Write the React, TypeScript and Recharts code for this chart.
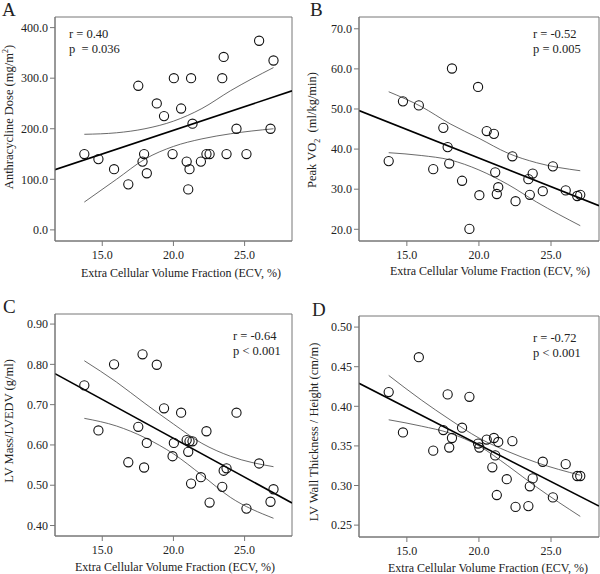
import React from "react";
import { ComposedChart, Scatter, Line, XAxis, YAxis, ReferenceArea } from "recharts";

// ECV (%) per patient, shared by the four panels
const ecv = [13.74, 14.73, 15.83, 16.83, 17.53, 17.83, 17.94, 18.13, 18.83, 19.34, 19.94, 20.03, 20.54, 20.93, 21.04, 21.13, 21.24, 21.34, 21.93, 22.32, 22.54, 23.43, 23.53, 23.73, 24.43, 25.13, 26.02, 26.82, 27.03];

// outcomes, same order as ecv (null = no value shown)
const dose = [150, 140, 120, 90, 285, 135, 150, 112, 250, 225, 150, 300, 240, 135, 80, 120, 300, 210, 135, 150, 150, 300, 342, 150, 200, 150, 374, 200, 335];
const vo2 = [37.0, 51.9, 50.9, 35.0, 45.3, 40.5, 36.4, 60.1, 32.1, 20.1, 55.5, 28.5, 44.5, null, 43.8, 34.2, 28.8, 30.5, null, 38.2, 27.0, 32.5, 28.6, 33.9, 29.5, 35.7, 29.7, 28.3, 28.6];
const massRatio = [0.748, 0.636, 0.8, 0.557, 0.645, 0.825, 0.544, 0.605, 0.799, 0.691, 0.572, 0.605, 0.68, 0.612, 0.583, 0.609, 0.504, 0.609, 0.52, 0.634, 0.457, 0.496, 0.536, 0.542, 0.68, 0.442, 0.554, 0.459, 0.49];
const wallRatio = [0.418, 0.367, 0.462, 0.344, 0.37, 0.415, 0.348, 0.36, 0.373, 0.412, 0.353, 0.348, 0.358, 0.323, 0.36, 0.338, 0.288, 0.355, 0.308, 0.356, 0.273, 0.274, 0.299, 0.309, 0.33, 0.285, 0.327, 0.312, 0.312];

// regression lines (end points at the frame edges)
const fitX = [11.68, 28.33];
const fitA = [119, 275];
const fitB = [49.6, 25.9];
const fitC = [0.777, 0.456];
const fitD = [0.429, 0.274];

// 95% CI curves
const ciX = [13.74, 16.0, 18.0, 20.0, 22.0, 24.0, 27.03];
const ciAup = [189, 192, 200, 215, 240, 275, 321];
const ciAlo = [55, 100, 140, 165, 180, 190, 200];
const ciBup = [54.3, 50.6, 46.3, 42.7, 39.0, 36.6, 34.6];
const ciBlo = [39.1, 38.4, 37.3, 34.8, 31.2, 26.8, 20.9];
const ciCup = [0.809, 0.756, 0.703, 0.652, 0.604, 0.572, 0.546];
const ciClo = [0.666, 0.647, 0.618, 0.578, 0.525, 0.470, 0.418];
const ciDup = [0.439, 0.408, 0.383, 0.360, 0.343, 0.329, 0.313];
const ciDlo = [0.383, 0.375, 0.366, 0.350, 0.325, 0.298, 0.261];

const xTicks = [15, 20, 25];
const ticksA = [0, 100, 200, 300, 400];
const ticksB = [20, 30, 40, 50, 60, 70];
const ticksC = [0.4, 0.5, 0.6, 0.7, 0.8, 0.9];
const ticksD = [0.25, 0.3, 0.35, 0.4, 0.45, 0.5];

const serif = "'Liberation Serif', 'Times New Roman', serif";
const xDomain = [11.68, 28.33];

type Pt = { x: number; y: number };
const zip = (xs: number[], ys: (number | null)[]): Pt[] =>
  xs.map((x, i) => ({ x, y: ys[i] as number })).filter((d) => d.y !== null && d.y !== undefined);

type Frame = { l: number; t: number; r: number; b: number };

function Ring(props: any) {
  const { cx, cy } = props;
  return <circle cx={cx} cy={cy} r={4.6} fill="none" stroke="#111" strokeWidth={1.1} />;
}

function Panel({
  frame,
  yDomain,
  yTicks,
  yDigits,
  points,
  fit,
  upper,
  lower,
}: {
  frame: Frame;
  yDomain: number[];
  yTicks: number[];
  yDigits: number;
  points: Pt[];
  fit: Pt[];
  upper: Pt[];
  lower: Pt[];
}) {
  const yW = 55;
  const mt = 5;
  const mr = 1;
  const xH = 28;
  const plotW = frame.r - frame.l;
  const plotH = frame.b - frame.t;
  const tickStyle = { fill: "#222", fontSize: 12, fontFamily: serif };
  return (
    <div style={{ position: "absolute", left: frame.l - yW, top: frame.t - mt }}>
      <ComposedChart
        width={yW + plotW + mr}
        height={mt + plotH + xH}
        margin={{ top: mt, right: mr, bottom: 0, left: 0 }}
      >
        <XAxis
          type="number"
          dataKey="x"
          domain={xDomain}
          ticks={xTicks}
          allowDataOverflow
          height={xH}
          tickFormatter={(v: number) => v.toFixed(1)}
          tick={tickStyle}
          tickSize={5}
          tickMargin={4}
          stroke="#777"
        />
        <YAxis
          type="number"
          dataKey="y"
          domain={yDomain}
          ticks={yTicks}
          allowDataOverflow
          width={yW}
          tickFormatter={(v: number) => v.toFixed(yDigits)}
          tick={tickStyle}
          tickSize={5}
          tickMargin={2}
          stroke="#777"
        />
        <ReferenceArea
          x1={xDomain[0]}
          x2={xDomain[1]}
          y1={yDomain[0]}
          y2={yDomain[1]}
          fill="none"
          stroke="#777"
          strokeWidth={1}
        />
        <Line data={upper} dataKey="y" type="monotone" stroke="#444" strokeWidth={0.8} dot={false} isAnimationActive={false} />
        <Line data={lower} dataKey="y" type="monotone" stroke="#444" strokeWidth={0.8} dot={false} isAnimationActive={false} />
        <Line data={fit} dataKey="y" type="linear" stroke="#000" strokeWidth={1.6} dot={false} isAnimationActive={false} />
        <Scatter data={points} dataKey="y" shape={Ring} isAnimationActive={false} />
      </ComposedChart>
    </div>
  );
}

const txt: React.CSSProperties = {
  position: "absolute",
  fontFamily: serif,
  fontSize: 12.5,
  color: "#222",
  whiteSpace: "pre",
  lineHeight: 1,
};

function YTitle({ x, y, children }: { x: number; y: number; children: React.ReactNode }) {
  return (
    <div style={{ ...txt, left: x, top: y, transform: "translate(-50%, -50%) rotate(-90deg)" }}>{children}</div>
  );
}

function XTitle({ x, y }: { x: number; y: number }) {
  return (
    <div style={{ ...txt, fontSize: 12, left: x, top: y, transform: "translate(-50%, -50%)" }}>
      Extra Cellular Volume Fraction (ECV, %)
    </div>
  );
}

function Letter({ x, y, children }: { x: number; y: number; children: React.ReactNode }) {
  return <div style={{ ...txt, left: x, top: y, fontSize: 19 }}>{children}</div>;
}

function Stat({ x, y, r, p }: { x: number; y: number; r: string; p: string }) {
  return (
    <div style={{ ...txt, left: x, top: y, lineHeight: "15px" }}>
      <div>{r}</div>
      <div>{p}</div>
    </div>
  );
}

export default function App() {
  return (
    <div style={{ position: "absolute", left: 0, top: 0, width: 600, height: 574, background: "#fff", overflow: "hidden" }}>
      <Panel
        frame={{ l: 55, t: 17, r: 292, b: 241 }}
        yDomain={[-22, 421]}
        yTicks={ticksA}
        yDigits={1}
        points={zip(ecv, dose)}
        fit={zip(fitX, fitA)}
        upper={zip(ciX, ciAup)}
        lower={zip(ciX, ciAlo)}
      />
      <Panel
        frame={{ l: 359, t: 17, r: 599, b: 241 }}
        yDomain={[17.08, 72.94]}
        yTicks={ticksB}
        yDigits={1}
        points={zip(ecv, vo2)}
        fit={zip(fitX, fitB)}
        upper={zip(ciX, ciBup)}
        lower={zip(ciX, ciBlo)}
      />
      <Panel
        frame={{ l: 55, t: 314, r: 292, b: 536 }}
        yDomain={[0.374, 0.925]}
        yTicks={ticksC}
        yDigits={2}
        points={zip(ecv, massRatio)}
        fit={zip(fitX, fitC)}
        upper={zip(ciX, ciCup)}
        lower={zip(ciX, ciClo)}
      />
      <Panel
        frame={{ l: 359, t: 316, r: 599, b: 537 }}
        yDomain={[0.235, 0.514]}
        yTicks={ticksD}
        yDigits={2}
        points={zip(ecv, wallRatio)}
        fit={zip(fitX, fitD)}
        upper={zip(ciX, ciDup)}
        lower={zip(ciX, ciDlo)}
      />

      <Letter x={2} y={0}>A</Letter>
      <Letter x={310} y={0}>B</Letter>
      <Letter x={3} y={297}>C</Letter>
      <Letter x={312} y={300}>D</Letter>

      <Stat x={69} y={27} r="r = 0.40" p="p  = 0.036" />
      <Stat x={533} y={27} r="r = -0.52" p="p = 0.005" />
      <Stat x={233} y={329} r="r = -0.64" p="p < 0.001" />
      <Stat x={533} y={331} r="r = -0.72" p="p < 0.001" />

      <YTitle x={9} y={117}>
        Anthracycline Dose (mg/m<sup style={{ fontSize: 8 }}>2</sup>)
      </YTitle>
      <YTitle x={314} y={130}>
        Peak VO<sub style={{ fontSize: 8 }}>2</sub>{"  "}(ml/kg/min)
      </YTitle>
      <YTitle x={9} y={421}>LV Mass/LVEDV (g/ml)</YTitle>
      <YTitle x={314} y={432}>LV Wall Thickness / Height (cm/m)</YTitle>

      <XTitle x={181} y={273} />
      <XTitle x={490} y={271} />
      <XTitle x={175} y={567} />
      <XTitle x={488} y={568} />
    </div>
  );
}
